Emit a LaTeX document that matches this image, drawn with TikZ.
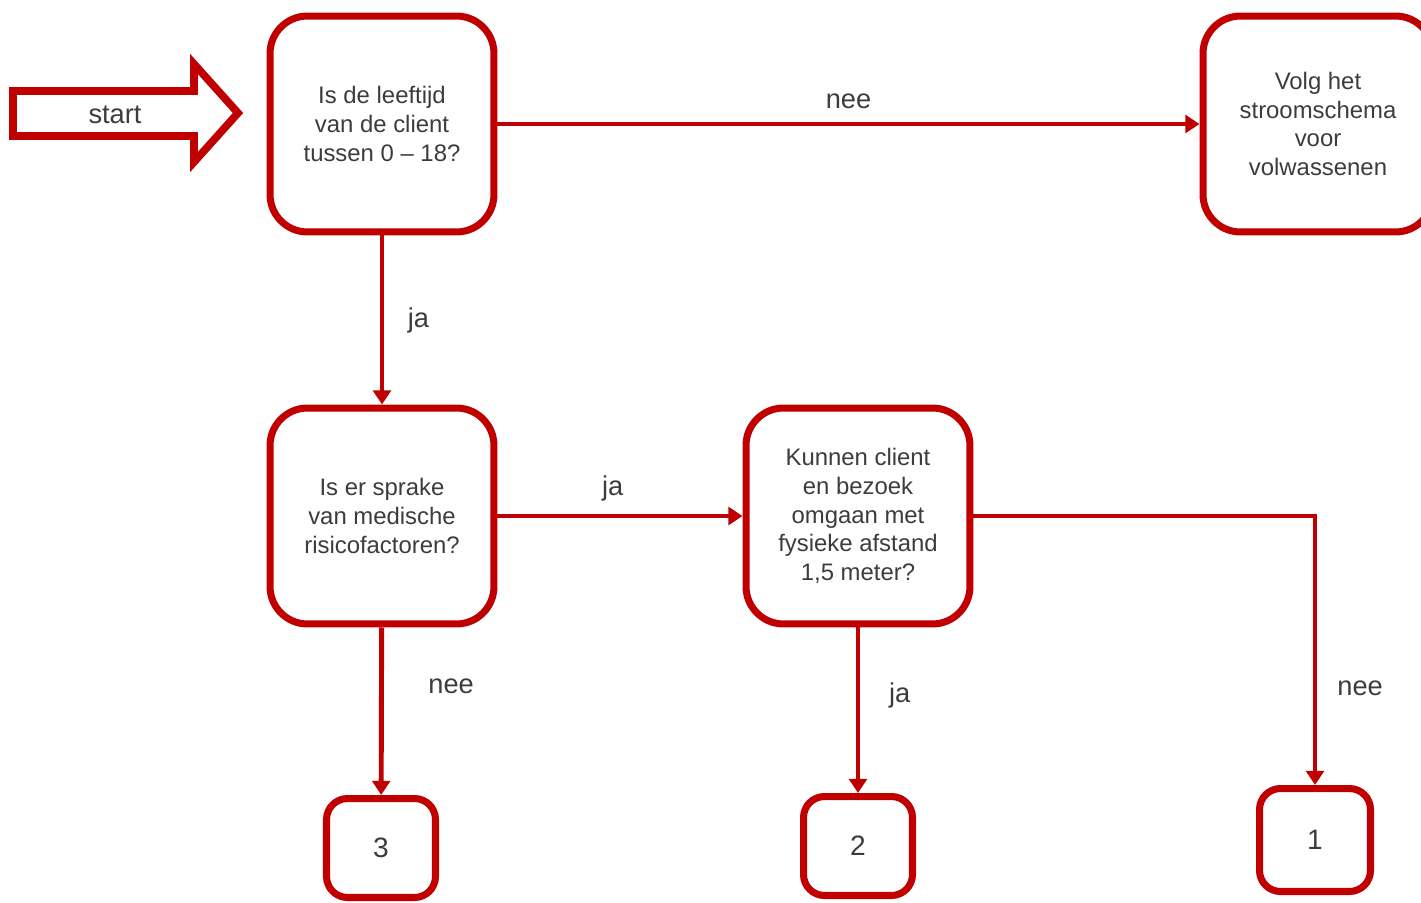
\documentclass[tikz,border=0pt]{standalone}
\usepackage{fontspec}
\setmainfont{Liberation Sans}
\usetikzlibrary{positioning,arrows.meta}
\definecolor{rood}{HTML}{C00000}
\definecolor{grijs}{HTML}{3C3C3C}
\tikzset{auto,
  vraag/.style={draw=rood, line width=4pt, rounded corners=0.75cm,
    minimum width=4.48cm, minimum height=4.32cm, align=center,
    text=grijs, font=\fontsize{13.6}{16.4}\selectfont},
  uitkomst/.style={vraag, rounded corners=0.42cm, minimum width=2.18cm, minimum height=1.98cm,
    font=\fontsize{16}{19}\selectfont},
  pijl/.style={draw=rood, line width=2.8pt, -{Triangle[length=8pt,width=10pt]}},
  lbl/.style={text=grijs, font=\fontsize{15.5}{18}\selectfont}}

\begin{document}
\begin{tikzpicture}[x=0.02cm, y=-0.02cm]
  \useasboundingbox (0,0) rectangle (1421,903);
  % startpijl
  \draw[rood, line width=4.4pt] (13,91) -- (194,91) -- (194,64) -- (238,113)
    -- (194,162) -- (194,136) -- (13,136) -- cycle;
  \node[lbl] (Start) at (115,115) {start};

  \node[vraag] (Age) at (382,124) {Is de leeftijd\\van de client\\tussen 0 -- 18?};
  \node[vraag, minimum width=4.6cm] (Adult) at (1318,124) {Volg het\\stroomschema\\voor\\volwassenen};
  \node[vraag] (Risk) at (382,516) {Is er sprake\\van medische\\risicofactoren?};
  \node[vraag] (Dist) at (858,516) {Kunnen client\\en bezoek\\omgaan met\\fysieke afstand\\1,5 meter?};
  \node[uitkomst] (Three) at (381,848) {3};
  \node[uitkomst] (Two) at (858,846) {2};
  \node[uitkomst, minimum width=2.22cm, minimum height=2.06cm] (One) at (1315,840) {1};

  \draw[pijl] (Age) to node[lbl, above=4pt] {nee} (Adult);
  \draw[pijl] (Age) to node[lbl, right=10pt] {ja} (Risk);
  \draw[pijl] (Risk) to node[lbl, above=4pt, pos=0.47] {ja} (Dist);
  \draw[pijl] (Risk) to node[lbl, right=22pt, pos=0.35] {nee} (Three);
  \draw[pijl] (Dist) to node[lbl, right=13pt, pos=0.41] {ja} (Two);
  \draw[pijl] (Dist) -| node[lbl, right=8pt, pos=0.82] {nee} (One);
\end{tikzpicture}
\end{document}
